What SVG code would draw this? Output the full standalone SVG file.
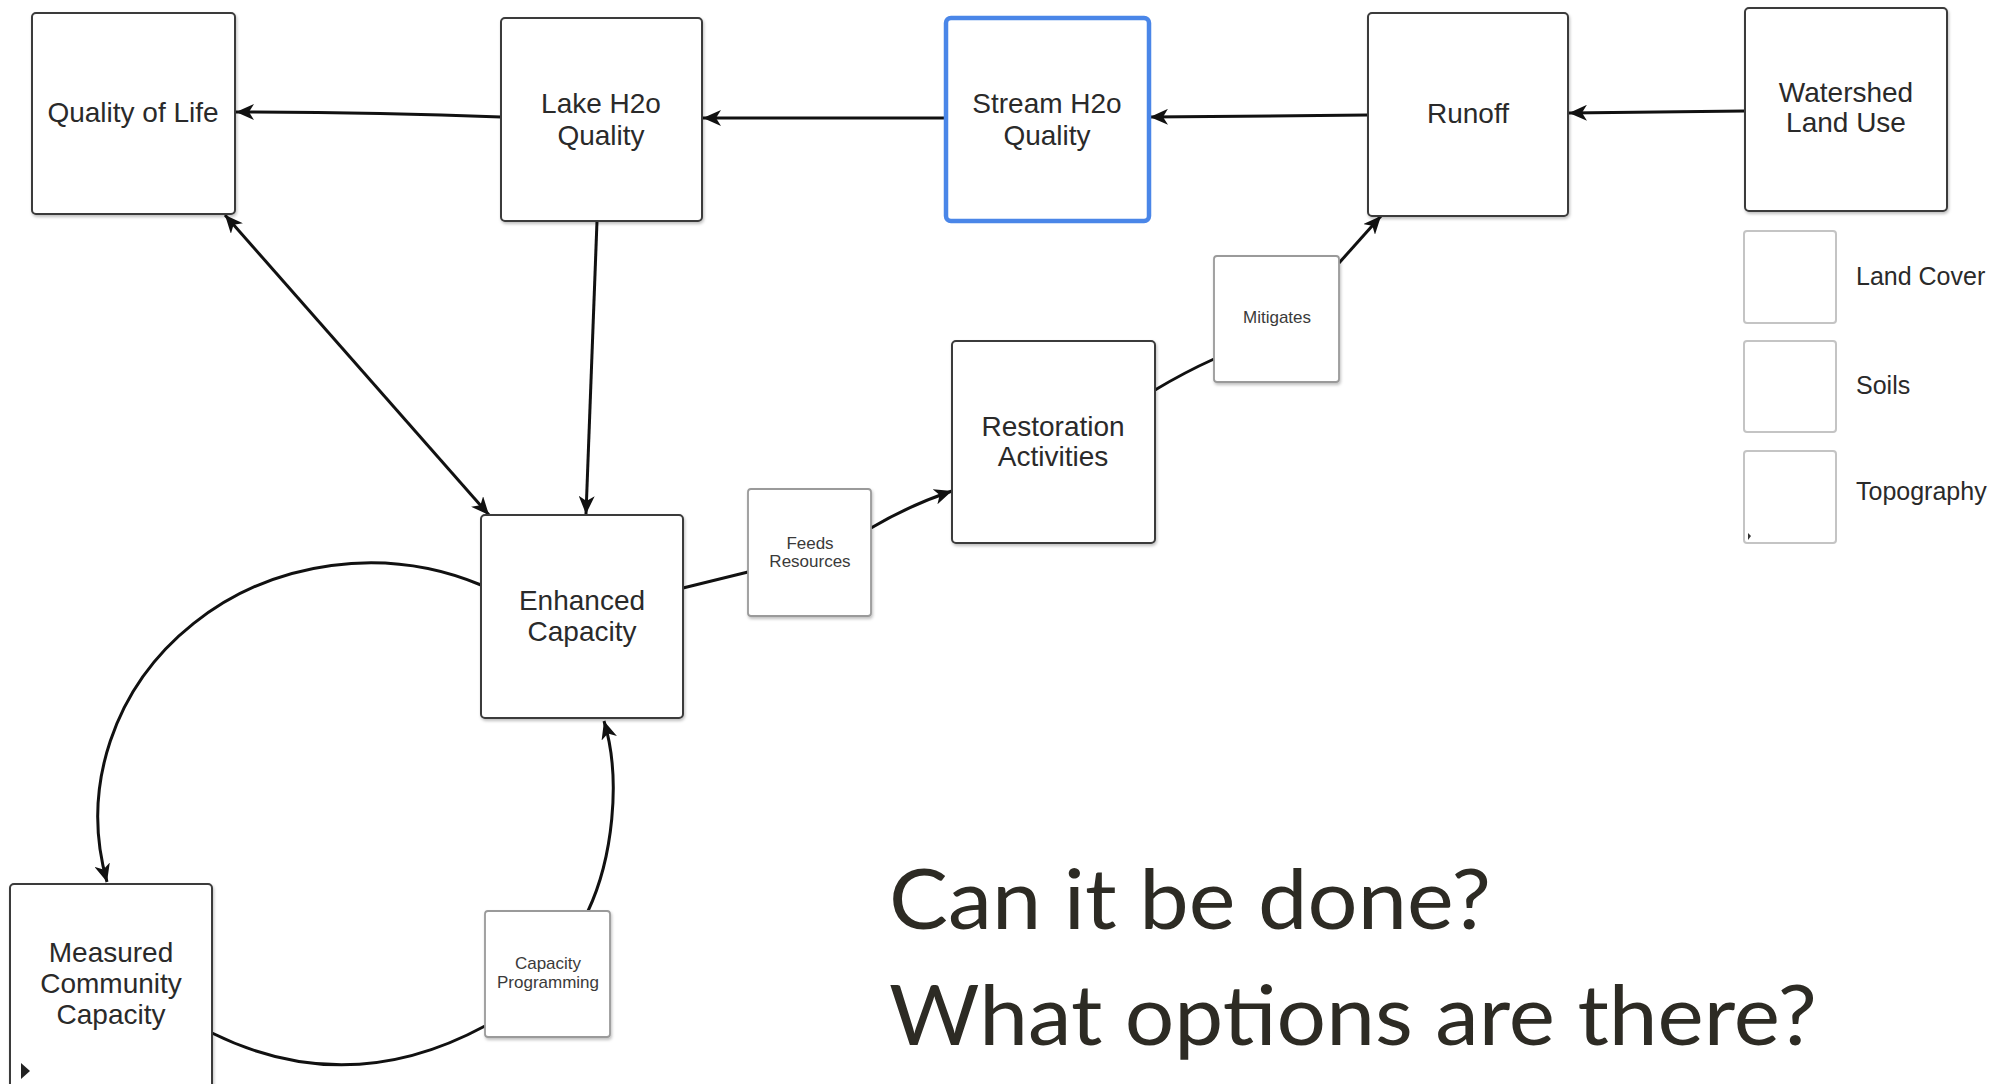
<svg xmlns="http://www.w3.org/2000/svg" width="2000" height="1084" viewBox="0 0 2000 1084">
<defs>
<style>
.box{fill:#fff;stroke:#3a3a3a;stroke-width:2;}
.lbox{fill:#fff;stroke:#9a9a9a;stroke-width:1.8;}
.gbox{fill:#fff;stroke:#c4c4c4;stroke-width:2;}
.sel{fill:#fff;stroke:#4a86e8;stroke-width:4.5;}
.t{font-family:"Liberation Sans",Arial,sans-serif;font-size:28px;fill:#2a2a2a;text-anchor:middle;}
.s{font-family:"Liberation Sans",Arial,sans-serif;font-size:17px;fill:#3a3a3a;text-anchor:middle;}
.lg{font-family:"Liberation Sans",Arial,sans-serif;font-size:25px;fill:#2a2a2a;}
.big{font-family:Lato,"Open Sans",sans-serif;font-size:84px;fill:#2d2b24;}
.c{fill:none;stroke:#111;stroke-width:3;}
.a{marker-end:url(#ah);}
.b{marker-start:url(#ah);marker-end:url(#ah);}
</style>
<marker id="ah" markerUnits="userSpaceOnUse" markerWidth="20" markerHeight="16" viewBox="0 0 20 16" refX="18" refY="8" orient="auto-start-reverse">
<path d="M0,0 L18,8 L0,16 L5,8 Z" fill="#111"/>
</marker>
<filter id="sh" x="-5%" y="-5%" width="115%" height="115%">
<feDropShadow dx="1" dy="2" stdDeviation="1.5" flood-color="#000" flood-opacity="0.25"/>
</filter>
</defs>
<rect width="2000" height="1084" fill="#fff"/>

<g id="connectors">
<path class="c a" d="M501,117 C400,113 300,112 236,112"/>
<path class="c a" d="M945,118 L703,118"/>
<path class="c a" d="M1368,115 L1150,117"/>
<path class="c a" d="M1745,111 L1569,113"/>
<path class="c a" d="M1339,263 L1381,216"/>
<path class="c" d="M1155,390 Q1185,372 1214,359"/>
<path class="c a" d="M871,528 Q910,505 952,491"/>
<path class="c" d="M683,588 Q715,580 748,572"/>
<path class="c b" d="M225,215 L489,515"/>
<path class="c a" d="M597,221 L586,514"/>
<path class="c a" d="M481,585 A272,254 0 0 0 107,882"/>
<path class="c" d="M212,1033 Q348,1100 485,1026"/>
<path class="c a" d="M588,911 C612,860 622,780 604,721"/>
</g>

<g id="quality-of-life">
<rect class="box" filter="url(#sh)" x="32" y="13" width="203" height="201" rx="4"/>
<text class="t" x="133" y="122">Quality of Life</text>
</g>
<g id="lake-h2o-quality">
<rect class="box" filter="url(#sh)" x="501" y="18" width="201" height="203" rx="4"/>
<text class="t" x="601" y="113">Lake H2o</text>
<text class="t" x="601" y="145">Quality</text>
</g>
<g id="stream-h2o-quality">
<rect class="sel" x="946" y="18" width="203" height="203" rx="5"/>
<text class="t" x="1047" y="113">Stream H2o</text>
<text class="t" x="1047" y="145">Quality</text>
</g>
<g id="runoff">
<rect class="box" filter="url(#sh)" x="1368" y="13" width="200" height="203" rx="4"/>
<text class="t" x="1468" y="123">Runoff</text>
</g>
<g id="watershed-land-use">
<rect class="box" filter="url(#sh)" x="1745" y="8" width="202" height="203" rx="4"/>
<text class="t" x="1846" y="102">Watershed</text>
<text class="t" x="1846" y="132">Land Use</text>
</g>
<g id="land-cover">
<rect class="gbox" x="1744" y="231" width="92" height="92" rx="3"/>
<text class="lg" x="1856" y="285">Land Cover</text>
</g>
<g id="soils">
<rect class="gbox" x="1744" y="341" width="92" height="91" rx="3"/>
<text class="lg" x="1856" y="394">Soils</text>
</g>
<g id="topography">
<rect class="gbox" x="1744" y="451" width="92" height="92" rx="3"/>
<path d="M1748,533 L1751,536 L1748,540 Z" fill="#333"/>
<text class="lg" x="1856" y="500">Topography</text>
</g>
<g id="mitigates">
<rect class="lbox" filter="url(#sh)" x="1214" y="256" width="125" height="126" rx="3"/>
<text class="s" x="1277" y="323">Mitigates</text>
</g>
<g id="restoration-activities">
<rect class="box" filter="url(#sh)" x="952" y="341" width="203" height="202" rx="4"/>
<text class="t" x="1053" y="436">Restoration</text>
<text class="t" x="1053" y="466">Activities</text>
</g>
<g id="feeds-resources">
<rect class="lbox" filter="url(#sh)" x="748" y="489" width="123" height="127" rx="3"/>
<text class="s" x="810" y="549">Feeds</text>
<text class="s" x="810" y="567">Resources</text>
</g>
<g id="enhanced-capacity">
<rect class="box" filter="url(#sh)" x="481" y="515" width="202" height="203" rx="4"/>
<text class="t" x="582" y="610">Enhanced</text>
<text class="t" x="582" y="641">Capacity</text>
</g>
<g id="measured-community-capacity">
<rect class="box" filter="url(#sh)" x="10" y="884" width="202" height="210" rx="4"/>
<path d="M21,1063 L30,1071 L21,1079 Z" fill="#222"/>
<text class="t" x="111" y="962">Measured</text>
<text class="t" x="111" y="993">Community</text>
<text class="t" x="111" y="1024">Capacity</text>
</g>
<g id="capacity-programming">
<rect class="lbox" filter="url(#sh)" x="485" y="911" width="125" height="126" rx="3"/>
<text class="s" x="548" y="969">Capacity</text>
<text class="s" x="548" y="988">Programming</text>
</g>

<g id="caption">
<text class="big" x="889" y="929" textLength="602" lengthAdjust="spacingAndGlyphs">Can it be done?</text>
<text class="big" x="889" y="1045" textLength="928" lengthAdjust="spacingAndGlyphs">What options are there?</text>
</g>
</svg>
